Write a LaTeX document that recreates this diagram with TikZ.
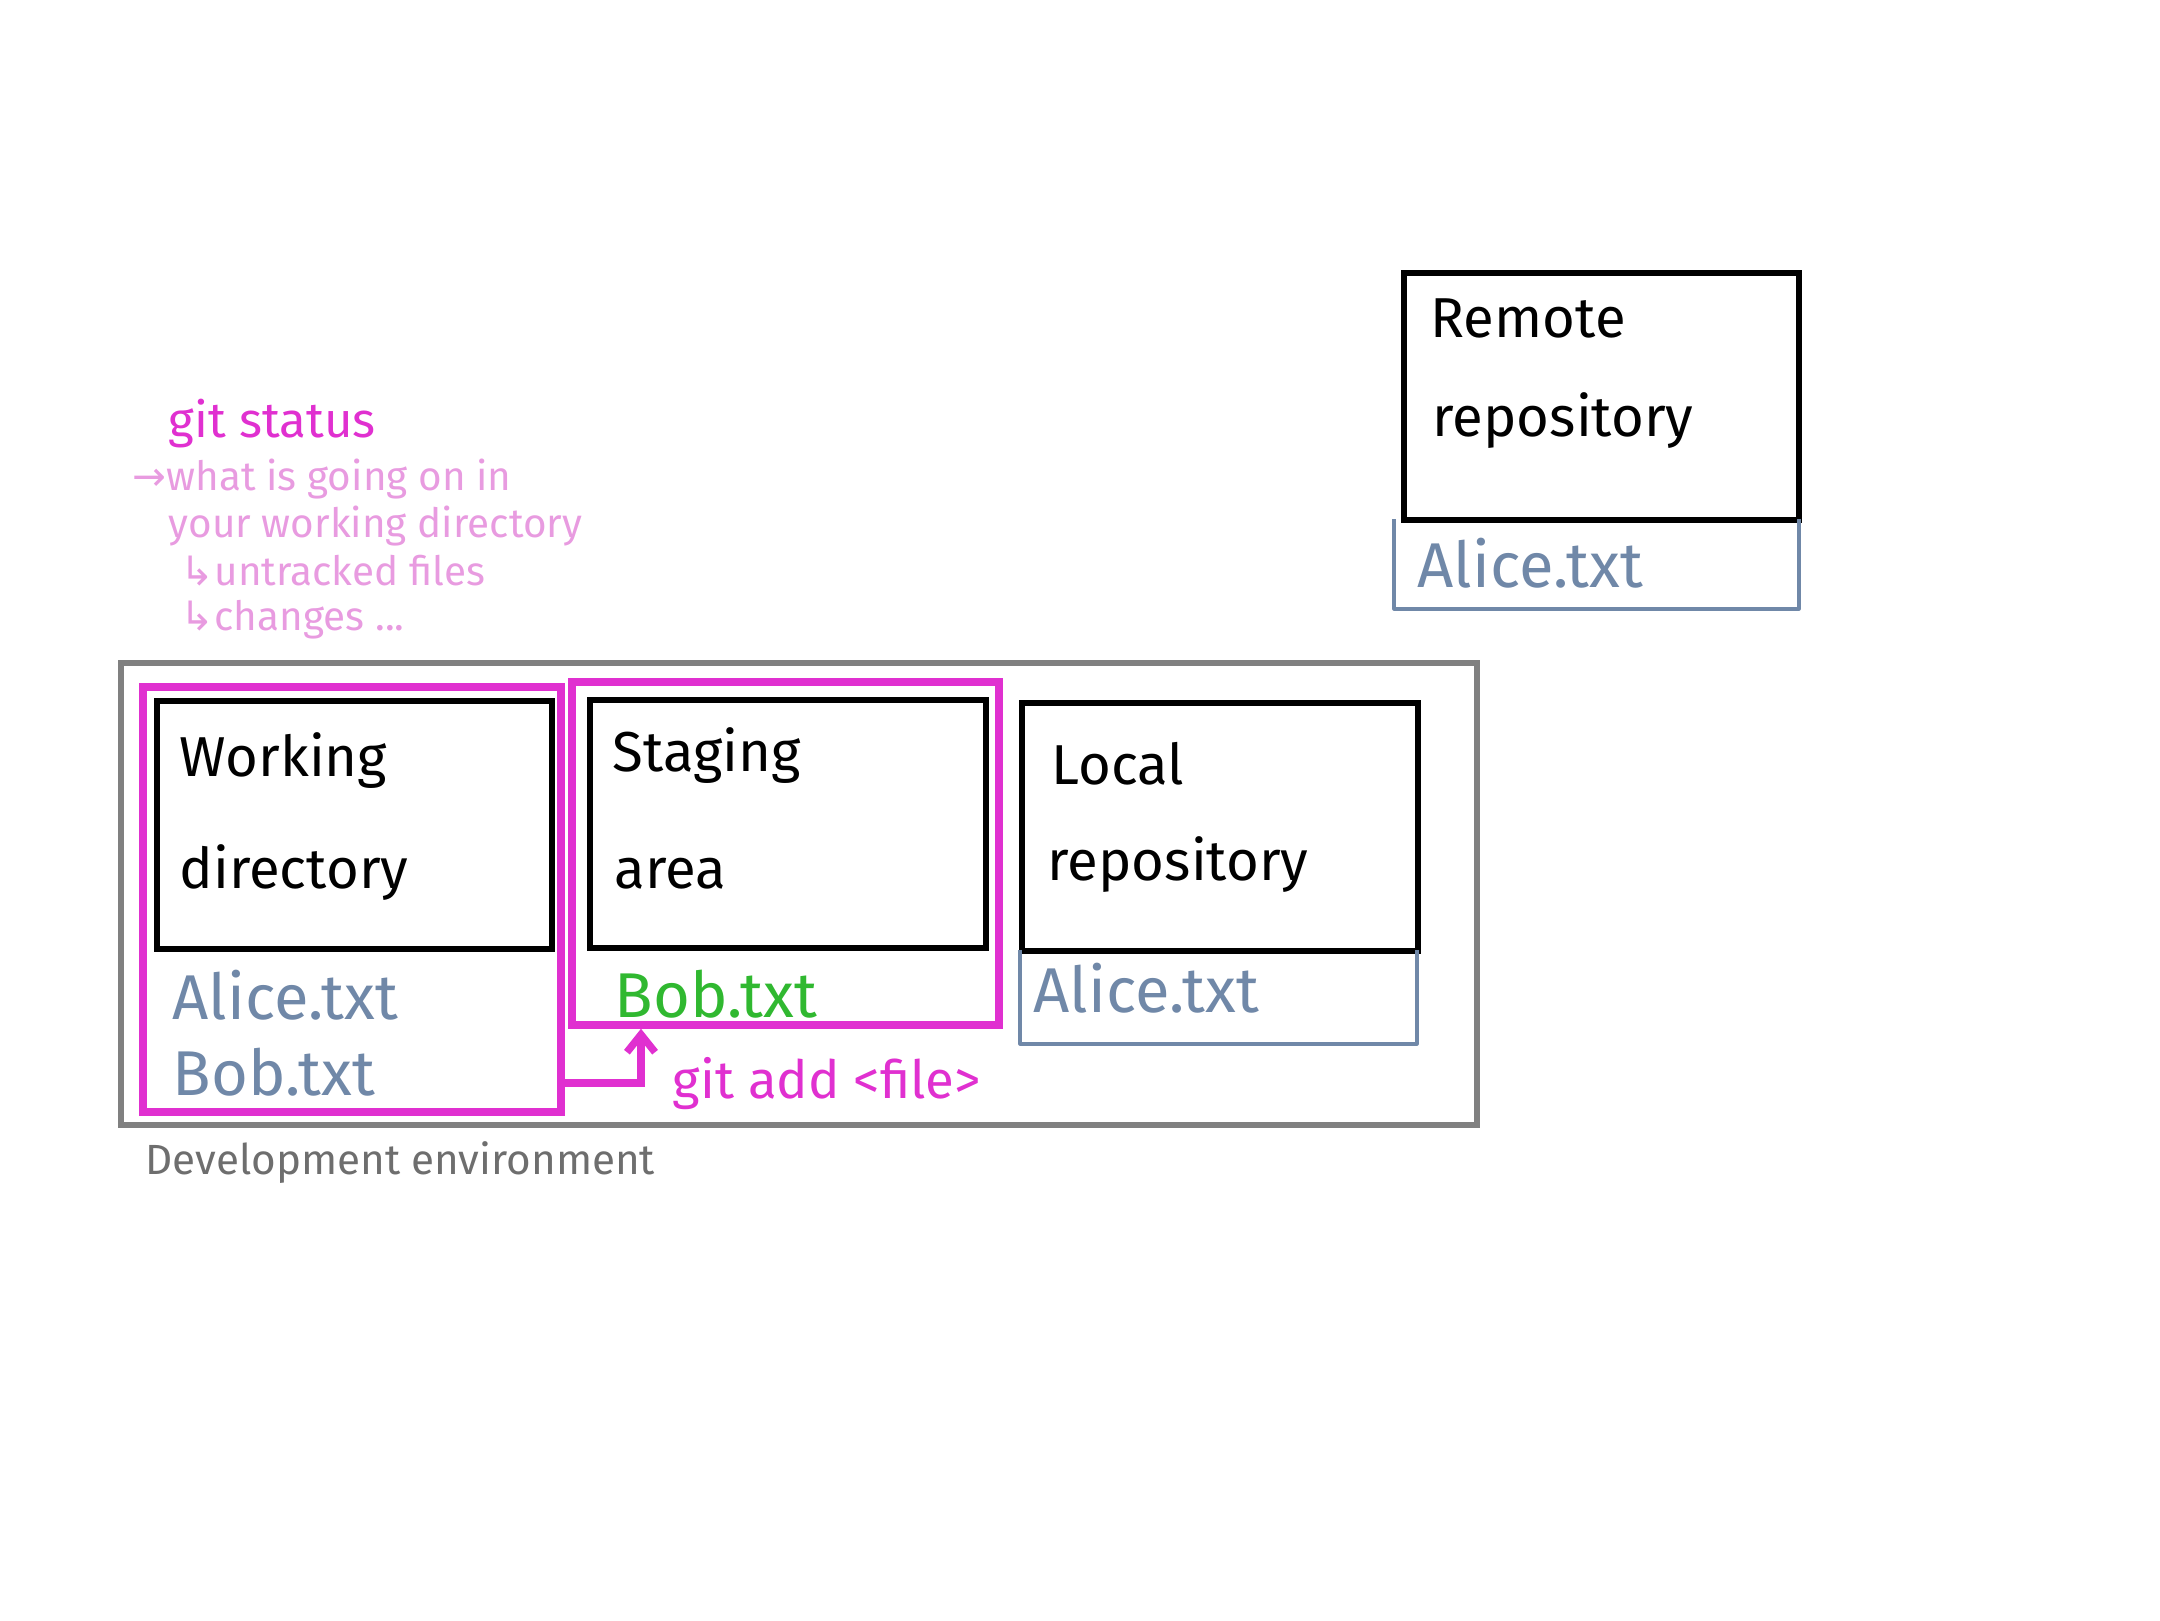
\documentclass[tikz,border=0pt]{standalone}
\usepackage{fontspec}
\setmainfont{Fira Sans}
\newfontfamily\symfont{DejaVu Sans}
\usetikzlibrary{fit,arrows.meta}
\definecolor{magentaA}{RGB}{224,48,208}
\definecolor{pinkA}{RGB}{232,155,224}
\definecolor{slateA}{RGB}{112,136,168}
\definecolor{greenA}{RGB}{48,184,48}
\definecolor{grayA}{RGB}{128,128,128}
\definecolor{grayT}{RGB}{110,110,110}
\tikzset{
  blackbox/.style={draw=black, line width=1.7pt, inner sep=0pt},
  magbox/.style={draw=magentaA, line width=2.1pt, inner sep=0pt},
  envbox/.style={draw=grayA, line width=1.8pt, inner sep=0pt},
  filearea/.style={inner sep=0pt},
  fileline/.style={draw=slateA, line width=1.1pt, line join=round},
  title/.style={anchor=base west, inner sep=0pt, font=\fontsize{16}{18}\selectfont, text=black},
  fname/.style={anchor=base west, inner sep=0pt, font=\fontsize{18}{20}\selectfont, text=slateA},
  note/.style={anchor=base west, inner sep=0pt, font=\fontsize{11.5}{13}\selectfont, text=pinkA},
}
\begin{document}
\begin{tikzpicture}[x=0.01cm,y=-0.01cm]
\useasboundingbox (0,0) rectangle (2160,1620);

% environment
\node[envbox, fit={(121,663) (1477,1125)}] (env) {};
\node[anchor=base west, inner sep=0pt, font=\fontsize{12}{14}\selectfont, text=grayT] (envlbl) at (145,1174) {Development environment};

% working directory
\node[magbox, fit={(143,687) (561,1112)}] (wdm) {};
\node[blackbox, fit={(157,701) (552,949)}] (wd) {};
\node[title] (wdt1) at (179,776) {Working};
\node[title] (wdt2) at (179,888) {directory};
\node[fname] (wdf1) at (172,1019) {Alice.txt};
\node[fname] (wdf2) at (172,1095) {Bob.txt};

% staging area
\node[magbox, fit={(572,682) (999,1025)}] (stm) {};
\node[blackbox, fit={(590,700) (986,948)}] (st) {};
\node[title] (stt1) at (612,771) {Staging};
\node[title] (stt2) at (614,888) {area};
\node[fname, text=greenA] (stf1) at (614,1017) {Bob.txt};

% local repository
\node[blackbox, fit={(1022,703) (1418,951)}] (lr) {};
\node[filearea, fit={(1021,951) (1416,1043)}] (lrf) {};
\draw[fileline] (lrf.north west) -- (lrf.south west) -- (lrf.south east) -- (lrf.north east);
\node[title] (lrt1) at (1051,784) {Local};
\node[title] (lrt2) at (1047,880) {repository};
\node[fname] (lrf1) at (1033,1012) {Alice.txt};

% remote repository
\node[blackbox, fit={(1404,273) (1799,520)}] (rr) {};
\node[filearea, fit={(1395,520) (1798,608)}] (rrf) {};
\draw[fileline] (rrf.north west) -- (rrf.south west) -- (rrf.south east) -- (rrf.north east);
\node[title] (rrt1) at (1430,337) {Remote};
\node[title] (rrt2) at (1432,436) {repository};
\node[fname] (rrf1) at (1417,587) {Alice.txt};

% git add arrow
\coordinate (bend) at (641,1083);
\draw[draw=magentaA, line width=2.1pt, -{Straight Barb[length=5pt,width=8pt]}] (wdm.east |- bend) -| (stm.south -| bend);
\node[anchor=base west, inner sep=0pt, font=\fontsize{15}{17}\selectfont, text=magentaA] (gitadd) at (672,1098) {git add <file>};

% git status notes
\node[anchor=base west, inner sep=0pt, font=\fontsize{14}{16}\selectfont, text=magentaA] (gitstatus) at (168,437) {git status};
\node[note] (n1) at (132,490) {{\symfont →}what is going on in};
\node[note] (n2) at (168,537) {your working directory};
\node[note] (n3) at (180,585) {{\symfont ↳}untracked files};
\node[note] (n4) at (180,630) {{\symfont ↳}changes ...};
\end{tikzpicture}
\end{document}
